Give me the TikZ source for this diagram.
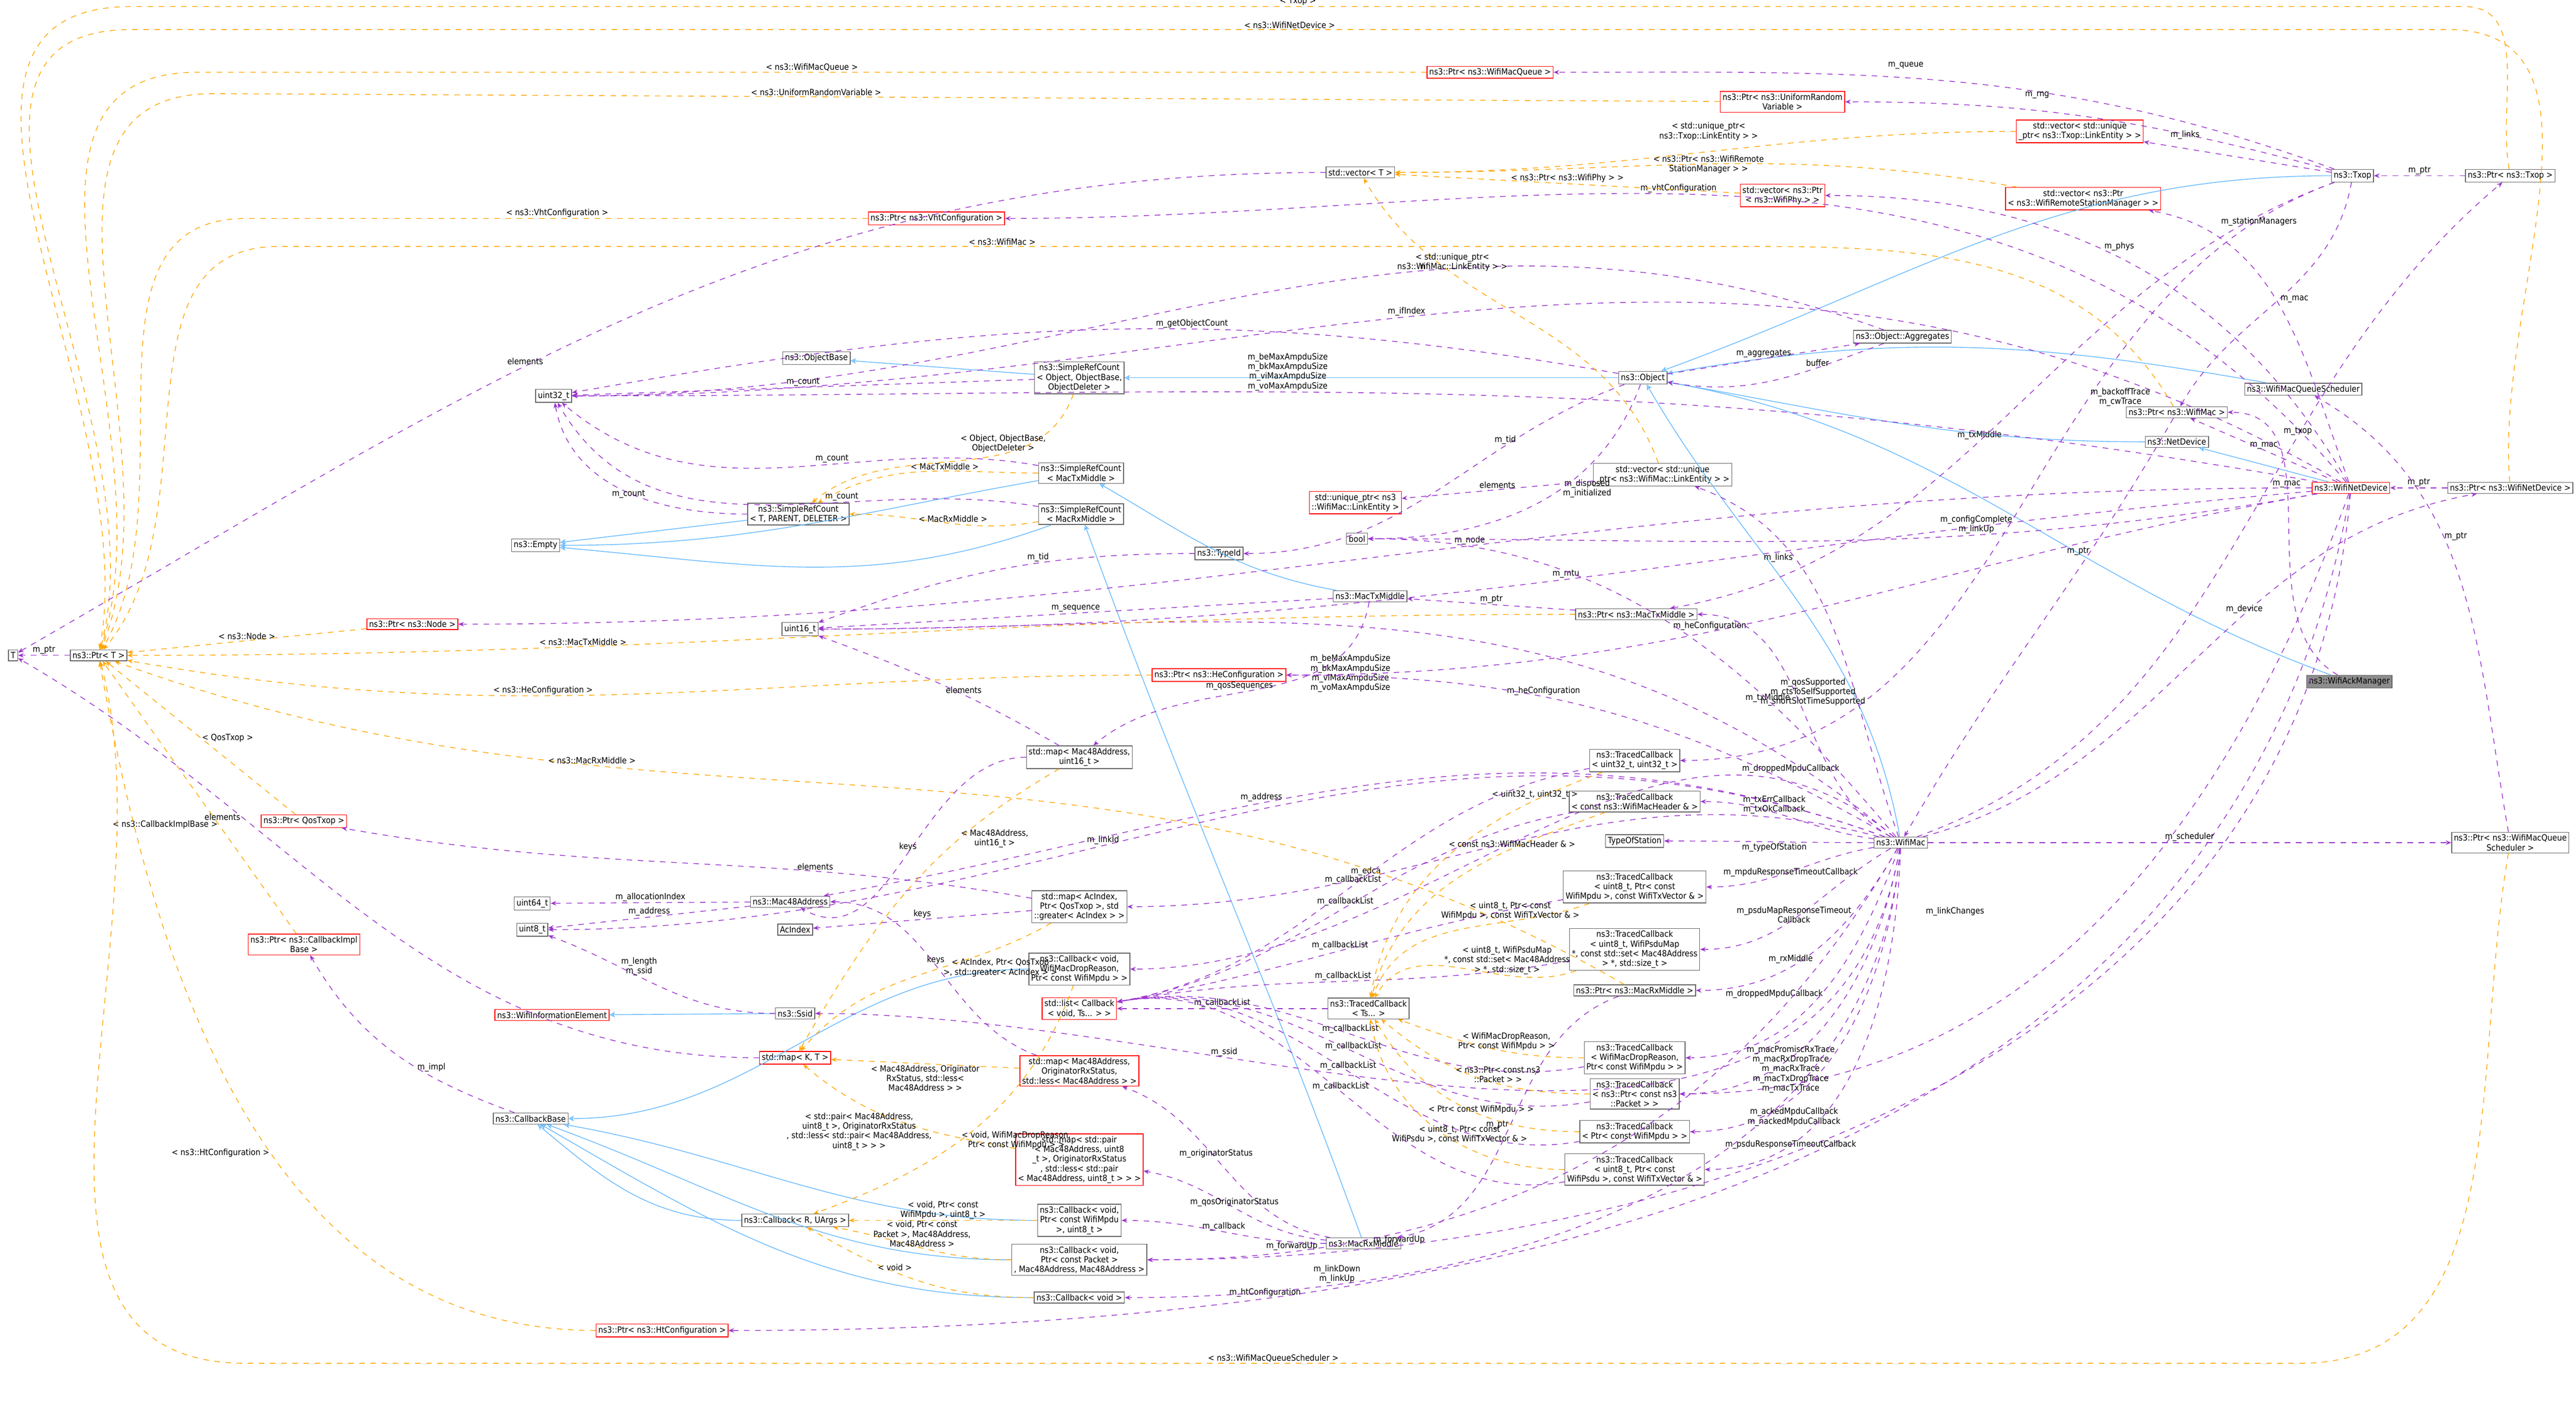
\documentclass[tikz,border=0pt]{standalone}
\usepackage{fontspec}
\setmainfont{DejaVu Sans Condensed}
\usetikzlibrary{arrows.meta}
\definecolor{usecol}{HTML}{9A32CD}
\definecolor{tplcol}{HTML}{FFA500}
\definecolor{inhcol}{HTML}{63B8FF}
\tikzset{
  cls/.style={draw=black!60, fill=white, font=\fontsize{4.6}{5.2}\selectfont, inner sep=1.2pt, align=center},
  missing/.style={cls, draw=red},
  root/.style={cls, fill=black!45},
  use/.style={draw=usecol, dashed, -{Stealth[length=3pt,width=2.4pt]}},
  tpl/.style={draw=tplcol, dashed, -{Stealth[length=3pt,width=2.4pt]}},
  inh/.style={draw=inhcol, -{Stealth[open,length=3pt,width=3pt]}},
  lbl/.style={font=\fontsize{4.6}{5.2}\selectfont, align=center, inner sep=0.5pt, text=black},
}
\begin{document}
\begin{tikzpicture}[x=0.031071cm, y=-0.031071cm]
  \useasboundingbox (0,0) rectangle (1568,854);

  % left column
  \node[cls] (tT) at (8,399) {T};
  \node[cls] (ptrT) at (60,399) {ns3::Ptr< T >};
  \node[cls] (u32) at (337,241) {uint32\_t};
  \node[cls] (empty) at (326,332) {ns3::Empty};
  \node[missing] (ptrNode) at (251,380) {ns3::Ptr< ns3::Node >};
  \node[missing] (ptrQos) at (185,500) {ns3::Ptr< QosTxop >};
  \node[missing] (ptrImpl) at (185,575) {ns3::Ptr< ns3::CallbackImpl\\Base >};
  \node[cls] (u64) at (324,550) {uint64\_t};
  \node[cls] (u8) at (324,566) {uint8\_t};
  \node[missing] (wie) at (336,618) {ns3::WifiInformationElement};
  \node[cls] (cbBase) at (323,681) {ns3::CallbackBase};
  \node[missing] (ptrHt) at (403,810) {ns3::Ptr< ns3::HtConfiguration >};

  % second column
  \node[cls] (objBase) at (497,218) {ns3::ObjectBase};
  \node[cls] (srcT) at (486,313) {ns3::SimpleRefCount\\< T, PARENT, DELETER >};
  \node[cls] (u16) at (487,383) {uint16\_t};
  \node[cls] (mac48) at (481,549) {ns3::Mac48Address};
  \node[cls] (acIdx) at (484,566) {AcIndex};
  \node[cls] (ssid) at (484,617) {ns3::Ssid};
  \node[missing] (mapKT) at (484,644) {std::map< K, T >};
  \node[cls] (cbRU) at (484,743) {ns3::Callback< R, UArgs >};
  \node[missing] (ptrVht) at (570,133) {ns3::Ptr< ns3::VhtConfiguration >};

  % third column
  \node[cls] (srcObj) at (657,230) {ns3::SimpleRefCount\\< Object, ObjectBase,\\ ObjectDeleter >};
  \node[cls] (srcTx) at (658,288) {ns3::SimpleRefCount\\< MacTxMiddle >};
  \node[cls] (srcRx) at (658,313) {ns3::SimpleRefCount\\< MacRxMiddle >};
  \node[cls] (mapSeq) at (657,461) {std::map< Mac48Address,\\ uint16\_t >};
  \node[cls] (mapEdca) at (657,552) {std::map< AcIndex,\\ Ptr< QosTxop >, std\\::greater< AcIndex > >};
  \node[cls] (cbDrop) at (657,590) {ns3::Callback< void,\\ WifiMacDropReason,\\ Ptr< const WifiMpdu > >};
  \node[missing] (cbList) at (657,614) {std::list< Callback\\< void, Ts... > >};
  \node[missing] (mapOrig) at (657,652) {std::map< Mac48Address,\\ OriginatorRxStatus,\\ std::less< Mac48Address > >};
  \node[missing] (mapQos) at (657,706) {std::map< std::pair\\< Mac48Address, uint8\\\_t >, OriginatorRxStatus\\, std::less< std::pair\\< Mac48Address, uint8\_t > > >};
  \node[cls] (cbMpdu) at (657,743) {ns3::Callback< void,\\ Ptr< const WifiMpdu\\ >, uint8\_t >};
  \node[cls] (cbFwd) at (657,767) {ns3::Callback< void,\\ Ptr< const Packet >\\, Mac48Address, Mac48Address >};
  \node[cls] (cbVoid) at (657,790) {ns3::Callback< void >};

  % fourth column
  \node[cls] (vecT) at (828,105) {std::vector< T >};
  \node[missing] (uniqLink) at (825,306) {std::unique\_ptr< ns3\\::WifiMac::LinkEntity >};
  \node[cls] (boolN) at (826,328) {bool};
  \node[cls] (typeId) at (742,337) {ns3::TypeId};
  \node[cls] (txMid) at (834,363) {ns3::MacTxMiddle};
  \node[missing] (ptrHe) at (742,411) {ns3::Ptr< ns3::HeConfiguration >};
  \node[cls] (tcTs) at (833,614) {ns3::TracedCallback\\< Ts... >};
  \node[cls] (rxMid) at (830,757) {ns3::MacRxMiddle};
  \node[missing] (ptrQueue) at (907,44) {ns3::Ptr< ns3::WifiMacQueue >};

  % fifth column
  \node[cls] (object) at (1000,230) {ns3::Object};
  \node[cls] (vecLink) at (1012,289) {std::vector< std::unique\\\_ptr< ns3::WifiMac::LinkEntity > >};
  \node[cls] (ptrTxMid) at (996,374) {ns3::Ptr< ns3::MacTxMiddle >};
  \node[cls] (tcU32) at (995,463) {ns3::TracedCallback\\< uint32\_t, uint32\_t >};
  \node[cls] (tcHdr) at (995,488) {ns3::TracedCallback\\< const ns3::WifiMacHeader \& >};
  \node[cls] (tos) at (995,512) {TypeOfStation};
  \node[cls] (tcMpduTo) at (995,540) {ns3::TracedCallback\\< uint8\_t, Ptr< const\\ WifiMpdu >, const WifiTxVector \& >};
  \node[cls] (tcPsduMap) at (995,578) {ns3::TracedCallback\\< uint8\_t, WifiPsduMap\\ *, const std::set< Mac48Address\\ > *, std::size\_t >};
  \node[cls] (ptrRxMid) at (995,603) {ns3::Ptr< ns3::MacRxMiddle >};
  \node[cls] (tcDrop) at (995,644) {ns3::TracedCallback\\< WifiMacDropReason,\\ Ptr< const WifiMpdu > >};
  \node[cls] (tcPkt) at (995,666) {ns3::TracedCallback\\< ns3::Ptr< const ns3\\::Packet > >};
  \node[cls] (tcMpdu) at (995,689) {ns3::TracedCallback\\< Ptr< const WifiMpdu > >};
  \node[cls] (tcPsdu) at (995,712) {ns3::TracedCallback\\< uint8\_t, Ptr< const\\ WifiPsdu >, const WifiTxVector \& >};
  \node[missing] (ptrRng) at (1085,62) {ns3::Ptr< ns3::UniformRandom\\Variable >};
  \node[missing] (vecPhy) at (1085,119) {std::vector< ns3::Ptr\\< ns3::WifiPhy > >};

  % right part
  \node[cls] (aggr) at (1158,205) {ns3::Object::Aggregates};
  \node[cls] (wifiMac) at (1157,513) {ns3::WifiMac};
  \node[missing] (vecTxLink) at (1266,80) {std::vector< std::unique\\\_ptr< ns3::Txop::LinkEntity > >};
  \node[missing] (vecRsm) at (1268,121) {std::vector< ns3::Ptr\\< ns3::WifiRemoteStationManager > >};
  \node[cls] (ptrMac) at (1325,251) {ns3::Ptr< ns3::WifiMac >};
  \node[cls] (netDev) at (1325,269) {ns3::NetDevice};
  \node[cls] (txop) at (1432,107) {ns3::Txop};
  \node[cls] (mqs) at (1402,237) {ns3::WifiMacQueueScheduler};
  \node[missing] (wnd) at (1431,297) {ns3::WifiNetDevice};
  \node[root] (ack) at (1430,415) {ns3::WifiAckManager};
  \node[cls] (ptrTxop) at (1528,107) {ns3::Ptr< ns3::Txop >};
  \node[cls] (ptrWnd) at (1528,297) {ns3::Ptr< ns3::WifiNetDevice >};
  \node[cls] (ptrMqs) at (1528,513) {ns3::Ptr< ns3::WifiMacQueue\\Scheduler >};

  % inheritance
  \draw[inh] (ack) to[out=160,in=-10] (object);
  \draw[inh] (txop) to[out=180,in=20] (object);
  \draw[inh] (mqs) to[out=170,in=10] (object);
  \draw[inh] (netDev) to[out=180,in=-10] (object);
  \draw[inh] (wnd) -- (netDev);
  \draw[inh] (wifiMac) to[out=100,in=-60] (object);
  \draw[inh] (object) -- (srcObj);
  \draw[inh] (srcObj) -- (objBase);
  \draw[inh] (srcT) -- (empty);
  \draw[inh] (srcTx) to[out=190,in=0] (empty);
  \draw[inh] (srcRx) to[out=200,in=-5] (empty);
  \draw[inh] (txMid) to[out=170,in=-30] (srcTx);
  \draw[inh] (rxMid) to[out=110,in=-70] (srcRx);
  \draw[inh] (ssid) -- (wie);
  \draw[inh] (cbDrop) to[out=180,in=0] (cbBase);
  \draw[inh] (cbMpdu) to[out=180,in=-10] (cbBase);
  \draw[inh] (cbFwd) to[out=180,in=-20] (cbBase);
  \draw[inh] (cbVoid) to[out=180,in=-30] (cbBase);
  \draw[inh] (cbRU) to[out=180,in=-40] (cbBase);

  % WifiAckManager
  \draw[use] (ack) to[out=150,in=0] node[lbl,above,pos=0.6] {m\_mac} (ptrMac);

  % Txop
  \draw[use] (txop) to[out=160,in=0] (ptrQueue);
  \node[lbl] at (1160,40) {m\_queue};
  \draw[use] (txop) to[out=165,in=0] (ptrRng);
  \node[lbl] at (1240,58) {m\_rng};
  \draw[use] (txop) -- (vecTxLink);
  \node[lbl] at (1330,82) {m\_links};
  \draw[use] (txop) to[out=-100,in=60] node[lbl,right,pos=0.5] {m\_mac} (ptrMac);
  \draw[use] (txop) to[out=200,in=10] node[lbl,above,pos=0.55] {m\_txMiddle} (ptrTxMid);
  \draw[use] (txop) to[out=200,in=0] node[lbl,right,pos=0.35] {m\_backoffTrace\\m\_cwTrace} (tcU32);
  \draw[use] (ptrTxop) -- node[lbl,above] {m\_ptr} (txop);

  % WifiNetDevice
  \draw[use] (wnd) to[out=120,in=0] (vecPhy);
  \node[lbl] at (1290,150) {m\_phys};
  \draw[use] (wnd) to[out=110,in=-10] (vecRsm);
  \node[lbl] at (1375,135) {m\_stationManagers};
  \draw[use] (wnd) -- node[lbl,above] {m\_mac} (ptrMac);
  \draw[use] (wnd) to[out=180,in=0] node[lbl,above,pos=0.45] {m\_node} (ptrNode);
  \draw[use] (wnd) to[out=130,in=0] node[lbl,above,pos=0.55] {m\_vhtConfiguration} (ptrVht);
  \draw[use] (wnd) to[out=190,in=0] node[lbl,above,pos=0.6] {m\_heConfiguration} (ptrHe);
  \draw[use] (wnd) to[out=-100,in=0] node[lbl,above,pos=0.75] {m\_htConfiguration} (ptrHt);
  \draw[use] (wnd) to[out=150,in=0] node[lbl,above,pos=0.55] {m\_ifIndex} (u32);
  \draw[use] (wnd) to[out=185,in=0] node[lbl,above,pos=0.5] {m\_mtu} (u16);
  \draw[use] (wnd) to[out=190,in=0] node[lbl,above,pos=0.35] {m\_configComplete\\m\_linkUp} (boolN);
  \draw[use] (wnd) to[out=-110,in=0] (tcPkt);
  \node[lbl] at (1190,555) {m\_linkChanges};
  \draw[use] (wnd) to[out=-95,in=0] node[lbl,above,pos=0.85] {m\_forwardUp} (cbFwd);
  \draw[use] (ptrWnd) -- node[lbl,above] {m\_ptr} (wnd);

  % Object
  \draw[use] (object) to[out=170,in=10] node[lbl,above,pos=0.4] {m\_getObjectCount} (u32);
  \draw[use] (object) -- node[lbl,above] {m\_aggregates} (aggr);
  \draw[use] (object) to[out=200,in=0] node[lbl,above,pos=0.3] {m\_tid} (typeId);
  \draw[use] (object) to[out=-110,in=0] node[lbl,right,pos=0.4] {m\_disposed\\m\_initialized} (boolN);
  \draw[use] (aggr) to[out=160,in=0] node[lbl,above,pos=0.35] {n} (u32);
  \draw[use] (aggr) to[out=200,in=-10] node[lbl,above,pos=0.3] {buffer} (object);
  \draw[use] (srcObj) -- node[lbl,above] {m\_count} (u32);
  \draw[use] (srcTx) to[out=170,in=-40] node[lbl,above,pos=0.4] {m\_count} (u32);
  \draw[use] (srcRx) to[out=170,in=-60] node[lbl,above,pos=0.35] {m\_count} (u32);
  \draw[use] (srcT) to[out=180,in=-80] node[lbl,above left,pos=0.4] {m\_count} (u32);
  \draw[tpl] (srcObj) to[out=-110,in=40] node[lbl,above,pos=0.35] {< Object, ObjectBase,\\ObjectDeleter >} (srcT);
  \draw[tpl] (srcTx) to[out=180,in=30] node[lbl,above,pos=0.4] {< MacTxMiddle >} (srcT);
  \draw[tpl] (srcRx) to[out=190,in=0] node[lbl,above,pos=0.45] {< MacRxMiddle >} (srcT);
  \draw[use] (typeId) to[out=180,in=20] node[lbl,above,pos=0.4] {m\_tid} (u16);

  % MacTxMiddle / MacRxMiddle
  \draw[use] (txMid) -- node[lbl,above] {m\_sequence} (u16);
  \draw[use] (txMid) to[out=-100,in=40] node[lbl,left,pos=0.45] {m\_qosSequences} (mapSeq);
  \draw[use] (ptrTxMid) -- node[lbl,above] {m\_ptr} (txMid);
  \draw[use] (rxMid) to[out=180,in=0] node[lbl,above] {m\_callback} (cbMpdu);
  \draw[use] (rxMid) to[out=170,in=-20] node[lbl,above,pos=0.55] {m\_originatorStatus} (mapOrig);
  \draw[use] (rxMid) to[out=175,in=-10] node[lbl,above,pos=0.5] {m\_qosOriginatorStatus} (mapQos);
  \draw[use] (ptrRxMid) to[out=200,in=10] node[lbl,left,pos=0.5] {m\_ptr} (rxMid);

  % WifiMac
  \draw[use] (wifiMac) -- node[lbl,above] {m\_scheduler} (ptrMqs);
  \draw[use] (wifiMac) to[out=15,in=190] node[lbl,above,pos=0.6] {m\_device} (ptrWnd);
  \draw[use] (wifiMac) to[out=20,in=220] node[lbl,above,pos=0.65] {m\_txop} (ptrTxop);
  \draw[use] (wifiMac) to[out=110,in=-20] node[lbl,left,pos=0.7] {m\_links} (vecLink);
  \draw[use] (wifiMac) to[out=150,in=0] (ptrTxMid);
  \node[lbl] at (1076,425) {m\_txMiddle};
  \draw[use] (wifiMac) to[out=-120,in=0] (ptrRxMid);
  \node[lbl] at (1090,584) {m\_rxMiddle};
  \draw[use] (wifiMac) to[out=-100,in=0] node[lbl,above,pos=0.7] {m\_ssid} (ssid);
  \draw[use] (wifiMac) to[out=160,in=10] node[lbl,above,pos=0.6] {m\_address} (mac48);
  \draw[use] (wifiMac) to[out=165,in=0] node[lbl,above,pos=0.7] {m\_edca} (mapEdca);
  \draw[use] (wifiMac) to[out=180,in=0] (tos);
  \node[lbl] at (1080,516) {m\_typeOfStation};
  \draw[use] (wifiMac) to[out=172,in=0] (tcHdr);
  \node[lbl] at (1080,490) {m\_txErrCallback\\m\_txOkCallback};
  \draw[use] (wifiMac) to[out=190,in=0] (tcMpduTo);
  \node[lbl] at (1090,531) {m\_mpduResponseTimeoutCallback};
  \draw[use] (wifiMac) to[out=-150,in=0] (tcPsduMap);
  \node[lbl] at (1092,557) {m\_psduMapResponseTimeout\\Callback};
  \draw[use] (wifiMac) to[out=-110,in=0] (tcDrop);
  \node[lbl] at (1080,605) {m\_droppedMpduCallback};
  \draw[use] (wifiMac) to[out=-100,in=0] (tcPkt);
  \node[lbl] at (1090,651) {m\_macPromiscRxTrace\\m\_macRxDropTrace\\m\_macRxTrace\\m\_macTxDropTrace\\m\_macTxTrace};
  \draw[use] (wifiMac) to[out=-95,in=0] (tcMpdu);
  \node[lbl] at (1092,680) {m\_ackedMpduCallback\\m\_nackedMpduCallback};
  \draw[use] (wifiMac) to[out=-92,in=0] (tcPsdu);
  \node[lbl] at (1090,697) {m\_psduResponseTimeoutCallback};
  \draw[use] (wifiMac) to[out=-95,in=0] node[lbl,above,pos=0.8] {m\_linkDown\\m\_linkUp} (cbVoid);
  \draw[use] (wifiMac) to[out=-120,in=0] node[lbl,above,pos=0.85] {m\_forwardUp} (cbFwd);
  \draw[use] (wifiMac) to[out=140,in=0] (cbDrop);
  \node[lbl] at (1090,468) {m\_droppedMpduCallback};
  \draw[use] (wifiMac) to[out=130,in=0] node[lbl,right,pos=0.3] {m\_qosSupported\\m\_ctsToSelfSupported\\m\_shortSlotTimeSupported} (boolN);
  \draw[use] (wifiMac) to[out=160,in=0] node[lbl,above,pos=0.6] {m\_linkId} (u8);
  \draw[use] (wifiMac) to[out=140,in=0] (u16);
  \node[lbl] at (822,410) {m\_beMaxAmpduSize\\m\_bkMaxAmpduSize\\m\_viMaxAmpduSize\\m\_voMaxAmpduSize};
  \draw[use] (wnd) to[out=170,in=0] node[lbl,above,pos=0.6] {m\_beMaxAmpduSize\\m\_bkMaxAmpduSize\\m\_viMaxAmpduSize\\m\_voMaxAmpduSize} (u32);
  \draw[use] (wifiMac) to[out=150,in=0] node[lbl,above,pos=0.6] {m\_heConfiguration} (ptrHe);

  % Ptr templates and pointees
  \draw[use] (ptrT) -- node[lbl,above] {m\_ptr} (tT);
  \draw[use] (ptrMqs) to[out=100,in=-30] node[lbl,right,pos=0.6] {m\_ptr} (mqs);
  \draw[use] (ptrMac) to[out=-120,in=60] node[lbl,left,pos=0.3] {m\_ptr} (wifiMac);
  \draw[tpl] (ptrTxop) to[out=100,in=0] (1500,4) -- node[lbl,above] {< Txop >} (80,4) to[out=180,in=80] (ptrT);
  \draw[tpl] (ptrWnd) to[out=95,in=0] (1490,18) -- node[lbl,above] {< ns3::WifiNetDevice >} (80,18) to[out=180,in=75] (ptrT);
  \draw[tpl] (ptrQueue) -- node[lbl,above] {< ns3::WifiMacQueue >} (120,44) to[out=180,in=72] (ptrT);
  \draw[tpl] (ptrRng) -- node[lbl,above,pos=0.6] {< ns3::UniformRandomVariable >} (130,57) to[out=180,in=68] (ptrT);
  \draw[tpl] (ptrVht) -- node[lbl,above] {< ns3::VhtConfiguration >} (150,133) to[out=180,in=60] (ptrT);
  \draw[tpl] (ptrMac) to[out=120,in=0] (1050,150) -- node[lbl,above] {< ns3::WifiMac >} (170,150) to[out=180,in=50] (ptrT);
  \draw[tpl] (ptrNode) -- node[lbl,above] {< ns3::Node >} (ptrT);
  \draw[tpl] (ptrTxMid) to[out=180,in=0] node[lbl,above,pos=0.7] {< ns3::MacTxMiddle >} (ptrT);
  \draw[tpl] (ptrHe) to[out=180,in=-10] node[lbl,above,pos=0.6] {< ns3::HeConfiguration >} (ptrT);
  \draw[tpl] (ptrRxMid) to[out=150,in=-20] node[lbl,above,pos=0.7] {< ns3::MacRxMiddle >} (ptrT);
  \draw[tpl] (ptrQos) -- node[lbl,right] {< QosTxop >} (ptrT);
  \draw[tpl] (ptrImpl) -- node[lbl,left,pos=0.4] {< ns3::CallbackImplBase >} (ptrT);
  \draw[tpl] (ptrHt) to[out=180,in=-80] node[lbl,left,pos=0.45] {< ns3::HtConfiguration >} (ptrT);
  \draw[tpl] (ptrMqs) to[out=-100,in=0] (1400,830) -- node[lbl,above] {< ns3::WifiMacQueueScheduler >} (150,830) to[out=180,in=-75] (ptrT);

  % vectors and maps
  \draw[use] (vecT) to[out=180,in=30] node[lbl,above,pos=0.6] {elements} (tT);
  \draw[tpl] (vecTxLink) to[out=180,in=0] (vecT);
  \node[lbl] at (1040,80) {< std::unique\_ptr<\\ns3::Txop::LinkEntity > >};
  \draw[tpl] (vecPhy) -- node[lbl,above] {< ns3::Ptr< ns3::WifiPhy > >} (vecT);
  \draw[tpl] (vecRsm) to[out=170,in=0] (vecT);
  \node[lbl] at (1040,100) {< ns3::Ptr< ns3::WifiRemote\\StationManager > >};
  \draw[tpl] (vecLink) to[out=110,in=-60] node[lbl,above,pos=0.7] {< std::unique\_ptr<\\ns3::WifiMac::LinkEntity > >} (vecT);
  \draw[use] (vecLink) -- node[lbl,above] {elements} (uniqLink);
  \draw[use] (mapKT) to[out=180,in=-30] node[lbl,left,pos=0.7] {elements} (tT);
  \draw[use] (mapSeq) to[out=180,in=-30] node[lbl,above,pos=0.5] {keys} (mac48);
  \draw[use] (mapSeq) to[out=150,in=-20] node[lbl,above,pos=0.4] {elements} (u16);
  \draw[tpl] (mapSeq) to[out=-150,in=60] node[lbl,right,pos=0.3] {< Mac48Address,\\uint16\_t >} (mapKT);
  \draw[use] (mapEdca) -- node[lbl,above] {keys} (acIdx);
  \draw[use] (mapEdca) to[out=170,in=-10] node[lbl,above,pos=0.3] {elements} (ptrQos);
  \draw[tpl] (mapEdca) to[out=-150,in=50] node[lbl,right,pos=0.4] {< AcIndex, Ptr< QosTxop\\>, std::greater< AcIndex > >} (mapKT);
  \draw[use] (mapOrig) to[out=160,in=0] node[lbl,above,pos=0.5] {keys} (mac48);
  \draw[tpl] (mapOrig) -- node[lbl,below,pos=0.5] {< Mac48Address, Originator\\RxStatus, std::less<\\Mac48Address > >} (mapKT);
  \draw[tpl] (mapQos) to[out=170,in=-40] node[lbl,left,pos=0.35] {< std::pair< Mac48Address,\\uint8\_t >, OriginatorRxStatus\\, std::less< std::pair< Mac48Address,\\uint8\_t > > >} (mapKT);

  % Mac48Address, Ssid, CallbackBase
  \draw[use] (mac48) -- node[lbl,above] {m\_allocationIndex} (u64);
  \draw[use] (mac48) -- node[lbl,above] {m\_address} (u8);
  \draw[use] (ssid) to[out=180,in=-20] node[lbl,above,pos=0.6] {m\_length\\m\_ssid} (u8);
  \draw[use] (cbBase) to[out=160,in=-60] node[lbl,right,pos=0.4] {m\_impl} (ptrImpl);

  % callbacks
  \draw[tpl] (cbDrop) to[out=-110,in=20] node[lbl,right,pos=0.55] {< void, WifiMacDropReason,\\Ptr< const WifiMpdu > >} (cbRU);
  \draw[tpl] (cbMpdu) -- node[lbl,above] {< void, Ptr< const\\WifiMpdu >, uint8\_t >} (cbRU);
  \draw[tpl] (cbFwd) to[out=180,in=-10] node[lbl,above,pos=0.5] {< void, Ptr< const\\Packet >, Mac48Address,\\Mac48Address >} (cbRU);
  \draw[tpl] (cbVoid) to[out=180,in=-30] node[lbl,above,pos=0.6] {< void >} (cbRU);

  % traced callbacks
  \draw[use] (tcTs) -- node[lbl,above] {m\_callbackList} (cbList);
  \foreach \tc in {tcU32,tcHdr,tcMpduTo,tcPsduMap,tcDrop,tcPkt,tcMpdu,tcPsdu} {
    \draw[use] (\tc) to[out=190,in=10] node[lbl,above,pos=0.5] {m\_callbackList} (cbList);
  }
  \draw[tpl] (tcU32) to[out=200,in=80] node[lbl,above,pos=0.2] {< uint32\_t, uint32\_t >} (tcTs);
  \draw[tpl] (tcHdr) to[out=200,in=75] node[lbl,above,pos=0.3] {< const ns3::WifiMacHeader \& >} (tcTs);
  \draw[tpl] (tcMpduTo) to[out=200,in=70] node[lbl,above,pos=0.3] {< uint8\_t, Ptr< const\\WifiMpdu >, const WifiTxVector \& >} (tcTs);
  \draw[tpl] (tcPsduMap) to[out=200,in=60] node[lbl,above,pos=0.3] {< uint8\_t, WifiPsduMap\\*, const std::set< Mac48Address\\> *, std::size\_t >} (tcTs);
  \draw[tpl] (tcDrop) to[out=180,in=-20] node[lbl,above,pos=0.4] {< WifiMacDropReason,\\Ptr< const WifiMpdu > >} (tcTs);
  \draw[tpl] (tcPkt) to[out=180,in=-40] node[lbl,above,pos=0.4] {< ns3::Ptr< const ns3\\::Packet > >} (tcTs);
  \draw[tpl] (tcMpdu) to[out=180,in=-60] node[lbl,above,pos=0.4] {< Ptr< const WifiMpdu > >} (tcTs);
  \draw[tpl] (tcPsdu) to[out=180,in=-80] node[lbl,above,pos=0.4] {< uint8\_t, Ptr< const\\WifiPsdu >, const WifiTxVector \& >} (tcTs);
\end{tikzpicture}
\end{document}
